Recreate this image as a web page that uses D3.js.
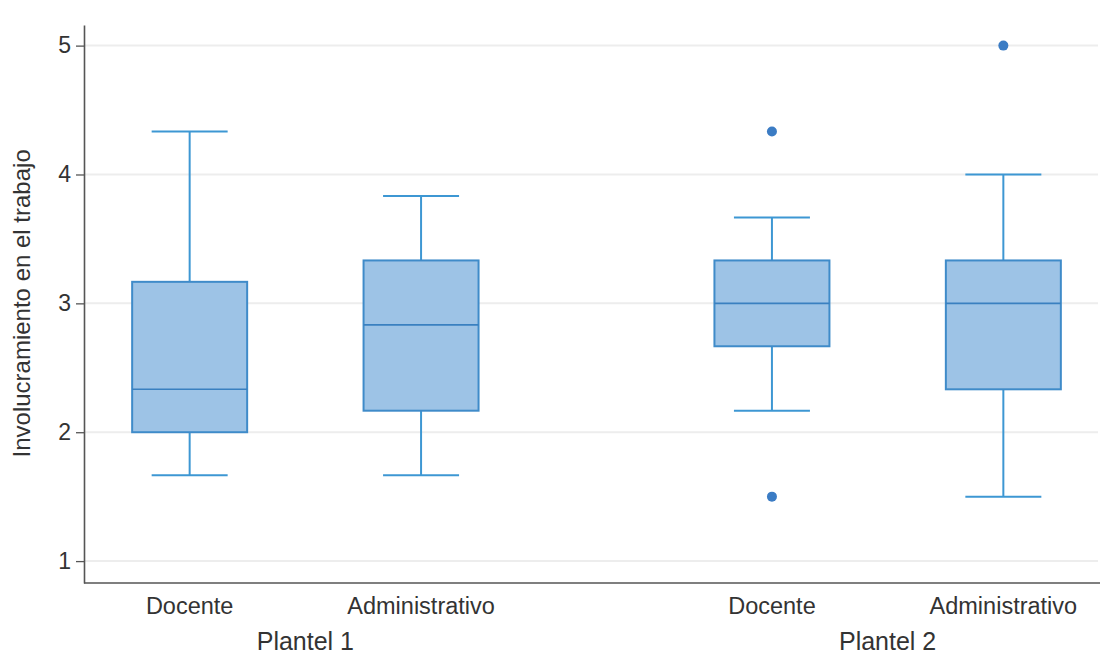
<!DOCTYPE html>
<html>
<head>
<meta charset="utf-8">
<script src="https://cdn.jsdelivr.net/npm/d3@7"></script>
<style>
  html, body { margin: 0; padding: 0; background: #ffffff; }
  svg { display: block; font-family: "Liberation Sans", Arial, Helvetica, sans-serif; }
</style>
</head>
<body>
<svg id="chart" width="1100" height="657"></svg>
<script>
// Grouping levels and box-plot summaries (one entry per group × role, in order)
const groups = ["Plantel 1", "Plantel 2"];
const roles = ["Docente", "Administrativo"];
const lowerWhisker = [1.667, 1.667, 2.167, 1.5];
const q1 = [2.0, 2.167, 2.667, 2.333];
const median = [2.333, 2.833, 3.0, 3.0];
const q3 = [3.167, 3.333, 3.333, 3.333];
const upperWhisker = [4.333, 3.833, 3.667, 4.0];
const outliers = [[], [], [4.333, 1.5], [5.0]];
const yTicks = [1, 2, 3, 4, 5];
const yTitle = "Involucramiento en el trabajo";

const boxes = [];
groups.forEach((g, gi) => roles.forEach((r, ri) => {
  const i = gi * roles.length + ri;
  boxes.push({ group: g, role: r, lo: lowerWhisker[i], q1: q1[i], med: median[i],
               q3: q3[i], hi: upperWhisker[i], out: outliers[i] });
}));

const svg = d3.select("#chart");
const plot = { left: 84, right: 1098, top: 25, bottom: 583 };

const y = d3.scaleLinear().domain([0.83, 5.16]).range([plot.bottom, plot.top]);
const xGroup = d3.scaleBand().domain(groups).range([87, 1106]).paddingInner(0.25).paddingOuter(0);
const xRole = d3.scalePoint().domain(roles).range([0, xGroup.bandwidth()]).padding(0.4436);
const cx = d => xGroup(d.group) + xRole(d.role);

const boxW = 115, capW = 76;
const fillC = "#9dc3e6", edgeC = "#3f8bc9", whiskC = "#3d97d3", dotC = "#3b7cc4";

// horizontal grid lines
svg.append("g").selectAll("line").data(yTicks).join("line")
  .attr("x1", plot.left + 1).attr("x2", plot.right)
  .attr("y1", d => y(d)).attr("y2", d => y(d))
  .attr("stroke", "#ededed").attr("stroke-width", 2);

// boxes
const b = svg.append("g").selectAll("g").data(boxes).join("g");
b.append("line").attr("x1", cx).attr("x2", cx)
  .attr("y1", d => y(d.hi)).attr("y2", d => y(d.q3))
  .attr("stroke", whiskC).attr("stroke-width", 2);
b.append("line").attr("x1", cx).attr("x2", cx)
  .attr("y1", d => y(d.q1)).attr("y2", d => y(d.lo))
  .attr("stroke", whiskC).attr("stroke-width", 2);
b.append("line").attr("x1", d => cx(d) - capW / 2).attr("x2", d => cx(d) + capW / 2)
  .attr("y1", d => y(d.hi)).attr("y2", d => y(d.hi))
  .attr("stroke", whiskC).attr("stroke-width", 2);
b.append("line").attr("x1", d => cx(d) - capW / 2).attr("x2", d => cx(d) + capW / 2)
  .attr("y1", d => y(d.lo)).attr("y2", d => y(d.lo))
  .attr("stroke", whiskC).attr("stroke-width", 2);
b.append("rect")
  .attr("x", d => cx(d) - boxW / 2).attr("width", boxW)
  .attr("y", d => y(d.q3)).attr("height", d => y(d.q1) - y(d.q3))
  .attr("fill", fillC).attr("stroke", edgeC).attr("stroke-width", 2);
b.append("line").attr("x1", d => cx(d) - boxW / 2).attr("x2", d => cx(d) + boxW / 2)
  .attr("y1", d => y(d.med)).attr("y2", d => y(d.med))
  .attr("stroke", "#3a80c0").attr("stroke-width", 1.6);
b.selectAll("circle").data(d => d.out.map(v => ({ v, d }))).join("circle")
  .attr("cx", o => cx(o.d)).attr("cy", o => y(o.v)).attr("r", 5)
  .attr("fill", dotC);

// y axis
const yAxis = svg.append("g").attr("transform", `translate(${plot.left},0)`)
  .call(d3.axisLeft(y).tickValues(yTicks).tickFormat(d3.format("d")).tickSize(8).tickSizeOuter(0).tickPadding(5));
yAxis.select(".domain").attr("stroke", "#555").attr("stroke-width", 1.6);
yAxis.selectAll(".tick line").attr("stroke", "#555").attr("stroke-width", 1.3);
yAxis.selectAll(".tick text").attr("fill", "#333").style("font-size", "23px")
  .style("font-family", "'Liberation Sans', Arial, sans-serif");

// x axis baseline
svg.append("line").attr("x1", plot.left).attr("x2", 1100)
  .attr("y1", plot.bottom).attr("y2", plot.bottom)
  .attr("stroke", "#555").attr("stroke-width", 1.6);

// role labels and group labels
svg.append("g").selectAll("text").data(boxes).join("text")
  .attr("x", cx).attr("y", 614).attr("text-anchor", "middle")
  .attr("fill", "#333").style("font-size", "23.5px").text(d => d.role);
svg.append("g").selectAll("text").data(groups).join("text")
  .attr("x", g => xGroup(g) + xGroup.bandwidth() / 2).attr("y", 650).attr("text-anchor", "middle")
  .attr("fill", "#333").style("font-size", "25px").text(g => g);

// y title
svg.append("text")
  .attr("transform", `translate(30,${(y(1) + y(5)) / 2 + 0}) rotate(-90)`)
  .attr("text-anchor", "middle").attr("fill", "#333").style("font-size", "24px")
  .text(yTitle);
</script>
</body>
</html>
